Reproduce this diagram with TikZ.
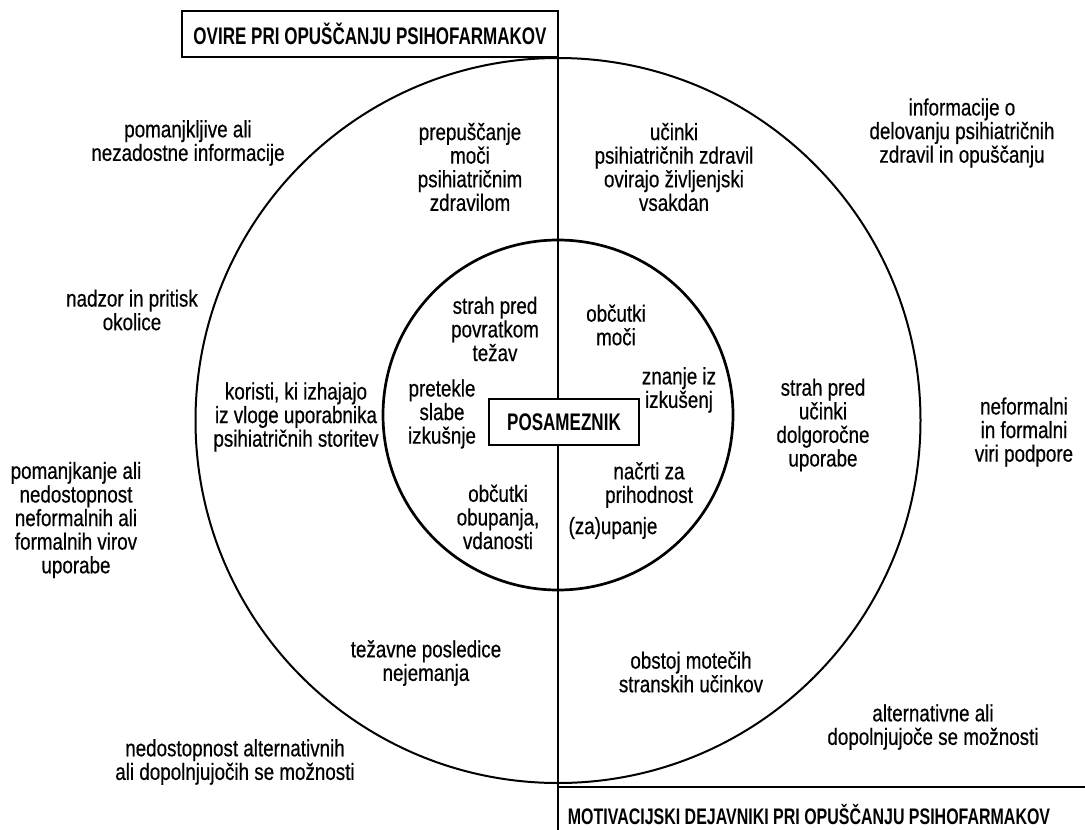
\documentclass[tikz,border=0pt]{standalone}
\usepackage{fontspec}
\setmainfont{Liberation Sans}[FakeStretch=0.8, FakeBold=0.5]
\newfontfamily\titlefont{Liberation Sans}[FakeStretch=0.71]
\begin{document}
\begin{tikzpicture}[x=1pt,y=-1pt,
  lbl/.style={align=center, font=\fontsize{23.5}{23.6}\selectfont, inner sep=0pt},
  titlebox/.style={draw, line width=1.8pt, inner sep=0pt, outer sep=0pt,
    font=\titlefont\bfseries\fontsize{24}{25}\selectfont},
  ring/.style={circle, draw, inner sep=0pt, outer sep=0pt, fill=none}]
\useasboundingbox (0,0) rectangle (1085,830);
% circles
\node[ring, line width=2pt, minimum size=725pt] (outer) at (558,420.5) {};
\node[ring, line width=2.7pt, minimum size=350pt] (inner) at (558,415) {};
% top title
\node[titlebox, minimum width=376pt, minimum height=46pt] (titleA) at (370,34) {OVIRE PRI OPUŠČANJU PSIHOFARMAKOV};
% dividing line
\coordinate (bot) at (558,830);
\draw[line width=2pt] (titleA.north east) -- (bot);
% bottom title
\coordinate (bl) at (558,787);
\coordinate (br) at (1085,787);
\draw[line width=2pt] (bl) -- (br);
\node[font=\titlefont\bfseries\fontsize{22.5}{24}\selectfont, inner sep=0pt] (titleB) at (809,815) {MOTIVACIJSKI DEJAVNIKI PRI OPUŠČANJU PSIHOFARMAKOV};
% center
\node[draw, line width=1.8pt, fill=white, minimum width=150pt, minimum height=46pt, inner sep=0pt,
  font=\titlefont\bfseries\fontsize{24}{25}\selectfont] (ind) at (564,422) {POSAMEZNIK};
% outside left
\node[lbl] (o1) at (188,143) {pomanjkljive ali\\nezadostne informacije};
\node[lbl] (o2) at (132,310) {nadzor in pritisk\\okolice};
\node[lbl] (o3) at (76,520) {pomanjkanje ali\\nedostopnost\\neformalnih ali\\formalnih virov\\uporabe};
\node[lbl] (o4) at (235,762) {nedostopnost alternativnih\\ali dopolnjujočih se možnosti};
% outer ring left
\node[lbl] (m1) at (470,167) {prepuščanje\\moči\\psihiatričnim\\zdravilom};
\node[lbl] (m2) at (296,417) {koristi, ki izhajajo\\iz vloge uporabnika\\psihiatričnih storitev};
\node[lbl] (m3) at (426,663) {težavne posledice\\nejemanja};
% outer ring right
\node[lbl] (m4) at (674,167) {učinki\\psihiatričnih zdravil\\ovirajo življenjski\\vsakdan};
\node[lbl] (m5) at (823,425) {strah pred\\učinki\\dolgoročne\\uporabe};
\node[lbl] (m6) at (691,672) {obstoj motečih\\stranskih učinkov};
% outside right
\node[lbl] (o5) at (962,133) {informacije o\\delovanju psihiatričnih\\zdravil in opuščanju};
\node[lbl] (o6) at (1024,432) {neformalni\\in formalni\\viri podpore};
\node[lbl] (o7) at (933,727) {alternativne ali\\dopolnjujoče se možnosti};
% inner circle
\node[lbl] (i1) at (495,329) {strah pred\\povratkom\\težav};
\node[lbl] (i2) at (442,414) {pretekle\\slabe\\izkušnje};
\node[lbl] (i3) at (498,517) {občutki\\obupanja,\\vdanosti};
\node[lbl] (i4) at (616,325) {občutki\\moči};
\node[lbl] (i5) at (679,390) {znanje iz\\izkušenj};
\node[lbl] (i6) at (649,485) {načrti za\\prihodnost};
\node[lbl] (i7) at (613,528) {(za)upanje};
\end{tikzpicture}
\end{document}
